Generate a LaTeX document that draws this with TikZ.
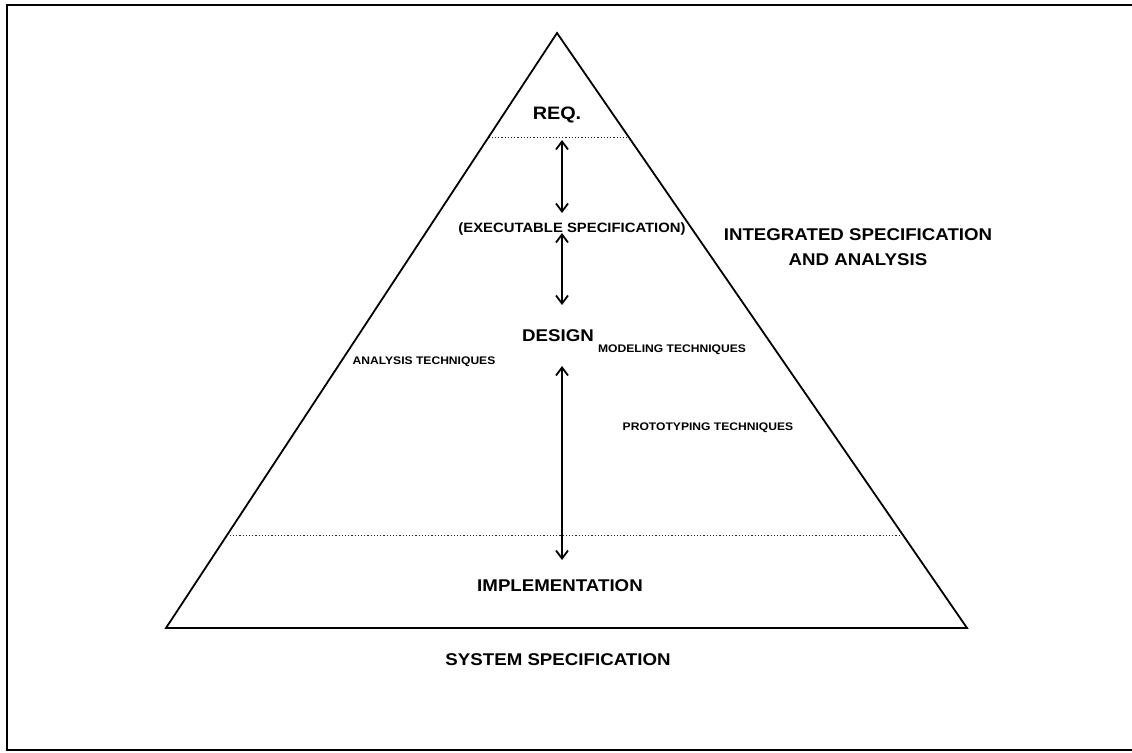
\documentclass[tikz,border=0pt]{standalone}
\usepackage{fontspec}
\setmainfont{Liberation Sans}
\usetikzlibrary{arrows.meta,calc}
\tikzset{
  big/.style={font=\bfseries\fontsize{17}{20}\selectfont, inner sep=0pt, xscale=1.1},
  small/.style={font=\bfseries\fontsize{11}{13}\selectfont, inner sep=0pt, xscale=1.1},
  edge/.style={line width=1.8pt},
  sep/.style={line width=1pt, dash pattern=on 1.2pt off 2pt, black!85},
  dbl/.style={line width=1.8pt, {Straight Barb[length=8pt,width=12pt,line width=1.8pt]}-{Straight Barb[length=8pt,width=12pt,line width=1.8pt]}},
  frame/.style={line width=2.4pt}
}
\begin{document}
\begin{tikzpicture}[x=1pt,y=-1pt]
\useasboundingbox (0,0) rectangle (1132,752);
% frame
\coordinate (f1) at (1140,5);
\coordinate (f2) at (7,5);
\coordinate (f3) at (7,750);
\coordinate (f4) at (1140,750);
\draw[frame] (f1) -- (f2) -- (f3) -- (f4);
% triangle
\coordinate (A) at (557,33);
\coordinate (BL) at (166,628);
\coordinate (BR) at (967,628);
\draw[edge, line join=miter] (A) -- (BL) -- (BR) -- cycle;
% separators
\coordinate (s1l) at ($(A)!0.1748!(BL)$);
\coordinate (s1r) at ($(A)!0.1748!(BR)$);
\coordinate (s2l) at ($(A)!0.845!(BL)$);
\coordinate (s2r) at ($(A)!0.845!(BR)$);
\draw[sep] (s1l) -- (s1r);
\draw[sep] (s2l) -- (s2r);
% labels
\node[big, font=\bfseries\fontsize{18}{21}\selectfont] (req) at (557,115) {REQ.};
\node[big, font=\bfseries\fontsize{13.5}{16}\selectfont] (exec) at (572,229) {(EXECUTABLE SPECIFICATION)};
\node[big] (design) at (558,336) {DESIGN};
\node[big] (impl) at (560,586) {IMPLEMENTATION};
\node[big] (sys) at (558,660) {SYSTEM SPECIFICATION};
\node[big, align=center] (isa) at (858,247) {INTEGRATED SPECIFICATION\\[5pt]AND ANALYSIS};
\node[small] (anal) at (424,362) {ANALYSIS TECHNIQUES};
\node[small] (model) at (672,350) {MODELING TECHNIQUES};
\node[small] (proto) at (708,428) {PROTOTYPING TECHNIQUES};
% arrows
\coordinate (a1t) at (562,140);
\coordinate (a1b) at (562,213);
\coordinate (a2t) at (562,233);
\coordinate (a2b) at (562,305);
\coordinate (a3t) at (562,366);
\coordinate (a3b) at (562,560);
\draw[dbl] (a1t) -- (a1b);
\draw[dbl] (a2t) -- (a2b);
\draw[dbl] (a3t) -- (a3b);
\end{tikzpicture}
\end{document}
